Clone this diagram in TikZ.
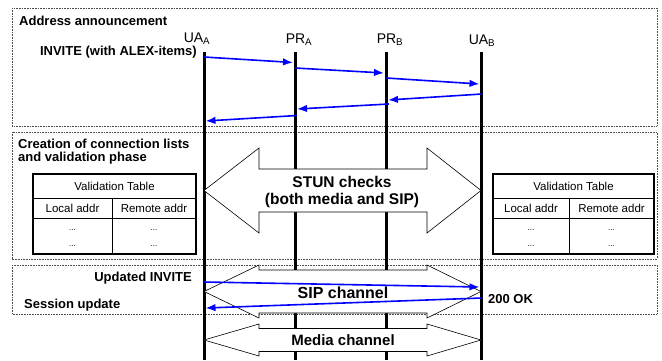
\documentclass[tikz,border=0pt]{standalone}
\usepackage{fontspec}
\setmainfont{Liberation Sans}
\usetikzlibrary{arrows.meta}

\begin{document}
\begin{tikzpicture}[x=1pt,y=-1pt,
    phase/.style={draw=black!70,dash pattern=on 0.8pt off 0.8pt,line width=0.8pt},
    lifeline/.style={line width=3pt},
    msg/.style={draw=blue,line width=1.6pt,-{Latex[length=10pt,width=7.5pt]}},
    channel/.style={draw,fill=white,line width=0.6pt,line join=miter},
    heading/.style={font=\bfseries\fontsize{13}{13.5}\selectfont,inner sep=0pt,align=left},
    entity/.style={font=\fontsize{14}{16}\selectfont,inner sep=0pt},
    cell/.style={font=\fontsize{11.5}{12}\selectfont,inner sep=0pt}]
\useasboundingbox (0,0) rectangle (662,360);
% \draw[help lines,step=20] (0,0) grid (662,360);

\draw[phase] (12,8) rectangle (657,126);
\draw[phase] (12,132) rectangle (657,259);
\draw[phase] (12,265) rectangle (657,314);

\node[entity,anchor=base] (uaA) at (197,42) {UA\textsubscript{A}};
\node[entity,anchor=base] (prA) at (299,43) {PR\textsubscript{A}};
\node[entity,anchor=base] (prB) at (390,43) {PR\textsubscript{B}};
\node[entity,anchor=base] (uaB) at (482,44.5) {UA\textsubscript{B}};

\foreach \nm/\x in {uaA/204,prA/295,prB/386,uaB/481}
    \draw[lifeline] (\x,52) coordinate (\nm0) -- (\x,360) coordinate (\nm1);

\foreach \y/\h/\s in {190.5/42.5/21.5,291.5/26.5/21.5,340/16/11.5}
    \draw[channel] (204,\y) -- (259,\y-\h) -- (259,\y-\s) -- (427,\y-\s) -- (427,\y-\h)
        -- (481,\y) -- (427,\y+\h) -- (427,\y+\s) -- (259,\y+\s) -- (259,\y+\h) -- cycle;

\node[font=\bfseries\fontsize{15.5}{16.5}\selectfont,align=center,inner sep=0pt] (stun) at (342,192) {STUN checks\\(both media and SIP)};
\node[font=\bfseries\fontsize{16}{18}\selectfont,inner sep=0pt,anchor=base] (sip) at (343,298) {SIP channel};
\node[font=\bfseries\fontsize{15}{17}\selectfont,inner sep=0pt,anchor=base] (media) at (343,345) {Media channel};

\foreach \nm/\x/\y in {a1/204/57,b1/293/62.5,b2/295/68,c2/384/73,c3/386/78,d3/479.5/84,
                      d4/482/94,c4/388/100,c5/389/104,b5/297/109,b6/297/115.5,a6/205.5/121,
                      a7/204/282,d7/479.5/287,d8/482/298,a8/205.5/308}
    \coordinate (\nm) at (\x,\y);

\path (a1) edge[msg] (b1)
      (b2) edge[msg] (c2)
      (c3) edge[msg] (d3)
      (d4) edge[msg] (c4)
      (c5) edge[msg] (b5)
      (b6) edge[msg] (a6)
      (a7) edge[msg] (d7)
      (d8) edge[msg] (a8);

\node[heading,anchor=base west] (announce) at (19,25) {Address announcement};
\node[heading,anchor=base east] (invite) at (197,55) {INVITE (with ALEX-items)};
\node[heading,anchor=base west] (creation) at (18,161.5) {Creation of connection lists\\and validation phase};
\node[heading,anchor=base east] (updated) at (192,281) {Updated INVITE};
\node[heading,anchor=base west] (session) at (24,308) {Session update};
\node[heading,anchor=base west] (ok) at (488,303) {200 OK};

\foreach \tx/\tm/\tr in {33/112/196,493/569/654} {
    \draw[line width=1.5pt] (\tx,174) rectangle (\tr,254);
    \draw[line width=0.6pt] (\tx,198) -- (\tr,198) (\tx,218) -- (\tr,218) (\tm,198) -- (\tm,254);
    \node[cell] (title\tx) at ({(\tx+\tr)/2},186) {Validation Table};
    \node[cell] (local\tx) at ({(\tx+\tm)/2},208) {Local addr};
    \node[cell] (remote\tx) at ({(\tm+\tr)/2},208) {Remote addr};
    \foreach \ry in {230,246} {
        \node[cell,font=\fontsize{8}{9}\selectfont] (l\tx r\ry) at ({(\tx+\tm)/2},\ry) {...};
        \node[cell,font=\fontsize{8}{9}\selectfont] (r\tx r\ry) at ({(\tm+\tr)/2},\ry) {...};
    }
}
\end{tikzpicture}
\end{document}
